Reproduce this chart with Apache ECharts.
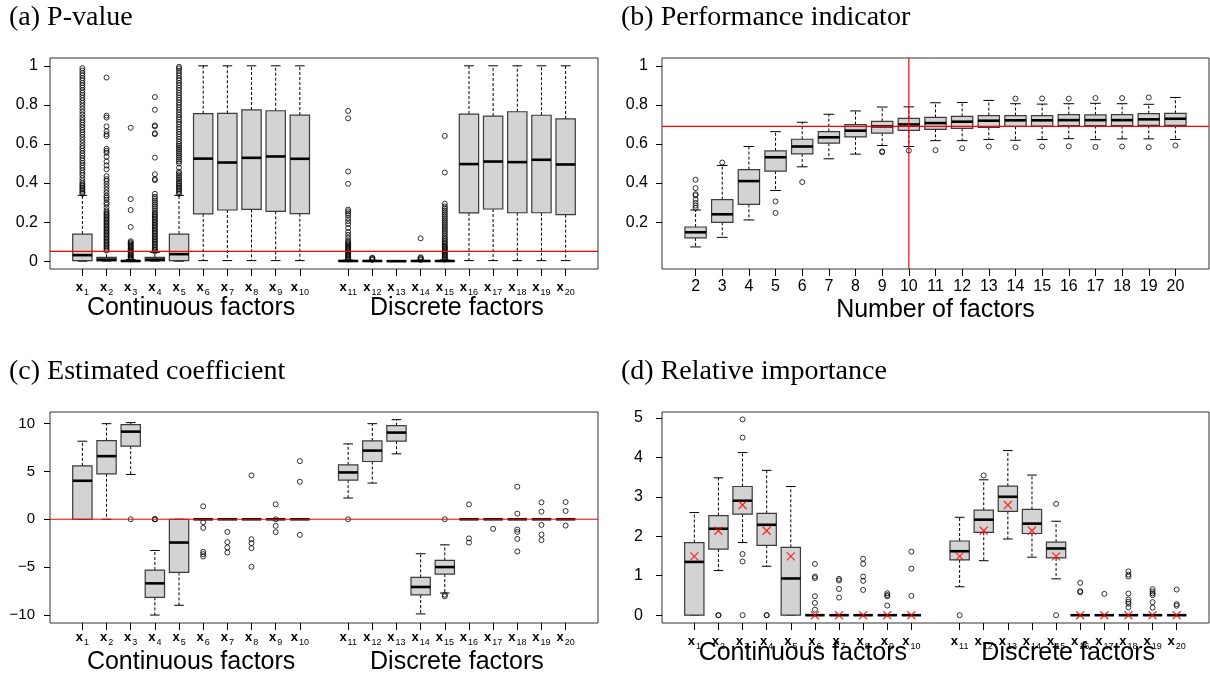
<!DOCTYPE html>
<html><head><meta charset="utf-8">
<script src="https://cdn.jsdelivr.net/npm/echarts@6/dist/echarts.min.js"></script>
<style>html,body{margin:0;padding:0;background:#fff}#c{width:1210px;height:677px}</style>
</head><body><div id="c"></div>
<script>
// ---------- categories ----------
const factorSubs = ['1','2','3','4','5','6','7','8','9','10','11','12','13','14','15','16','17','18','19','20'];
const factorPositions = [1,2,3,4,5,6,7,8,9,10,12,13,14,15,16,17,18,19,20,21];
const numberOfFactors = [2,3,4,5,6,7,8,9,10,11,12,13,14,15,16,17,18,19,20];
const pTicks = [0,0.2,0.4,0.6,0.8,1];
const perfTicks = [0.2,0.4,0.6,0.8,1];
const coefTicks = [-10,-5,0,5,10];
const impTicks = [0,1,2,3,4,5];

// ---------- (a) P-value: [low, q1, median, q3, high] ----------
const pvalBoxes = [
 [0,0.003,0.031,0.139,0.337],[0,0.001,0.008,0.02,0.049],[0,0,0.001,0.003,0.008],[0,0.001,0.008,0.02,0.045],[0,0.003,0.036,0.139,0.337],
 [0.003,0.242,0.525,0.755,1.0],[0.003,0.262,0.505,0.757,1.0],[0.003,0.265,0.529,0.774,1.0],[0.003,0.255,0.536,0.770,1.0],[0.003,0.243,0.524,0.748,1.0],
 [0,0,0.001,0.003,0.006],[0,0,0.001,0.002,0.004],[0,0,0,0.001,0.002],[0,0,0.001,0.002,0.004],[0,0,0.001,0.003,0.006],
 [0.003,0.247,0.497,0.753,1.0],[0.003,0.267,0.510,0.743,1.0],[0.003,0.248,0.507,0.765,1.0],[0.003,0.248,0.519,0.747,1.0],[0.003,0.238,0.495,0.728,1.0]
];
const pvalOutliers = [
 [0.345,0.352,0.36,0.368,0.375,0.383,0.39,0.398,0.41,0.425,0.44,0.452,0.465,0.478,0.49,0.503,0.515,0.527,0.54,0.552,0.565,0.578,0.59,0.605,0.62,0.635,0.648,0.66,0.672,0.685,0.698,0.71,0.722,0.735,0.75,0.765,0.78,0.795,0.81,0.823,0.836,0.85,0.862,0.875,0.888,0.9,0.912,0.925,0.937,0.95,0.962,0.975,0.988],
 [0.055,0.062,0.07,0.078,0.085,0.093,0.1,0.108,0.115,0.123,0.13,0.138,0.145,0.153,0.16,0.168,0.175,0.183,0.19,0.198,0.205,0.213,0.22,0.228,0.235,0.243,0.25,0.26,0.275,0.29,0.3,0.315,0.325,0.335,0.35,0.365,0.38,0.395,0.41,0.42,0.435,0.47,0.49,0.51,0.535,0.555,0.565,0.575,0.64,0.65,0.665,0.69,0.735,0.745,0.94],
 [0.009,0.014,0.019,0.024,0.03,0.036,0.042,0.048,0.054,0.06,0.066,0.072,0.078,0.084,0.09,0.096,0.102,0.175,0.262,0.318,0.683],
 [0.05,0.058,0.066,0.074,0.082,0.09,0.098,0.106,0.114,0.122,0.13,0.138,0.146,0.154,0.162,0.17,0.178,0.186,0.194,0.202,0.21,0.218,0.226,0.234,0.242,0.25,0.26,0.27,0.28,0.29,0.3,0.31,0.32,0.33,0.345,0.415,0.42,0.445,0.53,0.65,0.655,0.69,0.695,0.775,0.84],
 [0.345,0.353,0.361,0.369,0.377,0.385,0.393,0.401,0.41,0.42,0.43,0.44,0.45,0.458,0.478,0.5,0.51,0.52,0.53,0.54,0.55,0.56,0.57,0.58,0.59,0.6,0.612,0.625,0.637,0.65,0.662,0.675,0.687,0.7,0.712,0.725,0.737,0.75,0.762,0.775,0.787,0.8,0.812,0.825,0.837,0.85,0.862,0.875,0.887,0.9,0.912,0.925,0.937,0.95,0.962,0.975,0.987,0.995],
 [],[],[],[],[],
 [0.008,0.014,0.02,0.026,0.032,0.038,0.044,0.05,0.056,0.062,0.068,0.074,0.08,0.086,0.092,0.098,0.106,0.12,0.135,0.15,0.17,0.19,0.205,0.22,0.235,0.245,0.255,0.264,0.396,0.459,0.731,0.769],
 [0.006,0.01,0.014,0.018],
 [],
 [0.006,0.011,0.016,0.02,0.117],
 [0.008,0.014,0.02,0.026,0.032,0.038,0.044,0.05,0.056,0.062,0.068,0.074,0.08,0.088,0.096,0.104,0.112,0.12,0.13,0.14,0.15,0.16,0.17,0.18,0.19,0.2,0.21,0.22,0.23,0.24,0.25,0.26,0.27,0.28,0.294,0.454,0.641],
 [],[],[],[],[]
];
const pvalThreshold = 0.05;

// ---------- (b) Performance indicator ----------
const perfBoxes = [
 [0.073,0.119,0.148,0.175,0.262],[0.122,0.199,0.240,0.315,0.49],[0.211,0.291,0.41,0.469,0.587],[0.362,0.461,0.532,0.565,0.663],
 [0.483,0.549,0.587,0.624,0.711],[0.524,0.604,0.634,0.663,0.752],[0.548,0.636,0.668,0.699,0.769],[0.592,0.655,0.69,0.716,0.789],
 [0.587,0.67,0.70,0.731,0.79],[0.617,0.675,0.707,0.736,0.811],[0.617,0.68,0.714,0.741,0.812],[0.623,0.685,0.719,0.745,0.823],
 [0.619,0.69,0.721,0.745,0.806],[0.623,0.692,0.721,0.745,0.804],[0.627,0.694,0.722,0.75,0.806],[0.622,0.694,0.722,0.749,0.808],
 [0.626,0.694,0.722,0.75,0.806],[0.626,0.695,0.726,0.755,0.803],[0.623,0.695,0.729,0.757,0.838]
];
const perfOutliers = [
 [0.272,0.284,0.298,0.315,0.337,0.343,0.374,0.417],[0.505],[],[0.306,0.247],[0.405],[],[],[0.558,0.562],
 [0.566],[0.568],[0.578],[0.587],[0.832,0.583],[0.833,0.587],[0.832,0.588],[0.835,0.585],[0.835,0.587],[0.838,0.583],[0.592]
];
const perfThresholdY = 0.69;
const perfThresholdX = 10;

// ---------- (c) Estimated coefficient ----------
const coefBoxes = [
 [0,0,4.02,5.58,8.15],[0,4.75,6.59,8.21,9.98],[4.68,7.63,9.15,9.88,10.09],[-10.0,-8.15,-6.69,-5.3,-3.26],[-8.98,-5.55,-2.43,0,0],
 [0,0,0,0,0],[0,0,0,0,0],[0,0,0,0,0],[0,0,0,0,0],[0,0,0,0,0],
 [2.22,4.09,4.89,5.68,7.87],[3.78,6.03,7.17,8.18,9.98],[6.83,8.15,9.05,9.77,10.4],[-9.88,-7.9,-7.07,-6.07,-3.6],[-7.7,-5.72,-4.99,-4.3,-2.67],
 [0,0,0,0,0],[0,0,0,0,0],[0,0,0,0,0],[0,0,0,0,0],[0,0,0,0,0]
];
const coefOutliers = [
 [],[],[0],[0,0,0],[],
 [1.35,-0.31,-0.9,-3.4,-3.64,-3.88],[-1.32,-2.39,-2.95,-3.47],[4.58,-2.08,-2.5,-3.02,-4.96],[1.56,0,-0.69,-1.35],[6.07,3.92,-1.63],
 [0],[],[],[],[0,-7.87,-8.04],
 [1.56,-2.0,-2.43],[-1.0],[3.4,0.59,-1.07,-1.32,-2.05,-3.36],[1.77,0.8,-0.59,-1.6,-2.18],[1.8,0.87,-0.66]
];
const coefReference = 0;

// ---------- (d) Relative importance ----------
const impBoxes = [
 [0,0,1.35,1.84,2.6],[1.13,1.675,2.19,2.525,3.48],[1.84,2.56,2.9,3.26,4.12],[1.24,1.77,2.29,2.58,3.67],[0,0,0.93,1.72,3.26],
 [0,0,0,0,0],[0,0,0,0,0],[0,0,0,0,0],[0,0,0,0,0],[0,0,0,0,0],
 [0.72,1.4,1.62,1.88,2.48],[1.38,2.1,2.42,2.66,3.43],[1.93,2.63,3.0,3.27,4.17],[1.47,2.07,2.32,2.68,3.55],[0.92,1.45,1.69,1.85,2.38],
 [0,0,0,0,0],[0,0,0,0,0],[0,0,0,0,0],[0,0,0,0,0],[0,0,0,0,0]
];
const impOutliers = [
 [],[0,0],[4.96,4.5,1.55,1.36,0],[0,0],[],
 [1.3,0.98,0.94,0.48,0.31,0.14],[0.92,0.88,0.665,0.446],[1.43,1.3,0.98,0.87,0.64],[0.556,0.51,0.48,0.244],[1.61,1.18,0.49],
 [0],[3.54],[],[],[2.82,0],
 [0.82,0.61,0.58],[0.54],[1.11,1.03,0.98,0.55,0.4,0.34,0.29,0.2],[0.66,0.6,0.55,0.51,0.33,0.19],[0.65,0.28,0.24]
];
const impMeans = [1.49,2.14,2.79,2.14,1.49,0,0,0,0,0,1.49,2.14,2.79,2.14,1.49,0,0,0,0,0];

// ---------- helpers ----------
const SANS = 'Liberation Sans';
const SERIF = 'Liberation Serif';
const RED = '#ff0000';

function boxData(pos, boxes){ return boxes.map((b,i)=>[pos[i]].concat(b)); }
function outData(pos, outs){ const r=[]; outs.forEach((o,i)=>o.forEach(v=>r.push([pos[i],v]))); return r; }

function renderBox(params, api){
  const x = api.value(0);
  const lo = api.coord([x, api.value(1)]);
  const q1 = api.coord([x, api.value(2)]);
  const md = api.coord([x, api.value(3)]);
  const q3 = api.coord([x, api.value(4)]);
  const hi = api.coord([x, api.value(5)]);
  const bw = api.size([0.8, 0])[0];
  const cx = md[0];
  const dash = {stroke:'#000', lineWidth:1, lineDash:[3,2]};
  const solid = {stroke:'#000', lineWidth:1};
  return {type:'group', children:[
    {type:'line', shape:{x1:cx,y1:q3[1],x2:cx,y2:hi[1]}, style:dash},
    {type:'line', shape:{x1:cx,y1:q1[1],x2:cx,y2:lo[1]}, style:dash},
    {type:'line', shape:{x1:cx-bw/4,y1:hi[1],x2:cx+bw/4,y2:hi[1]}, style:solid},
    {type:'line', shape:{x1:cx-bw/4,y1:lo[1],x2:cx+bw/4,y2:lo[1]}, style:solid},
    {type:'rect', shape:{x:cx-bw/2,y:q3[1],width:bw,height:q1[1]-q3[1]}, style:{fill:'#d3d3d3', stroke:'#3a3a3a', lineWidth:1.2}},
    {type:'line', shape:{x1:cx-bw/2,y1:md[1],x2:cx+bw/2,y2:md[1]}, style:{stroke:'#000', lineWidth:2.6}}
  ]};
}

const subRich = {
  b:{fontFamily:SANS, fontSize:13, fontWeight:'bold', color:'#000', lineHeight:16, verticalAlign:'top'},
  s:{fontFamily:SANS, fontSize:9, color:'#000', lineHeight:10, padding:[7,0,0,1]}
};
function factorX(gridIndex, margin){
  return {type:'value', gridIndex, min:-0.34, max:22.34,
    axisLine:{show:false, onZero:false}, splitLine:{show:false},
    axisTick:{show:true, customValues:factorPositions, length:7, lineStyle:{color:'#000'}},
    axisLabel:{customValues:factorPositions, margin, rich:subRich,
      formatter:v=>{const i=factorPositions.indexOf(Math.round(v)); return '{b|x}{s|'+factorSubs[i]+'}';}}};
}
function yAx(gridIndex, min, max, ticks, margin, fs){
  return {type:'value', gridIndex, min, max, axisLine:{show:false, onZero:false}, splitLine:{show:false},
    axisTick:{show:true, customValues:ticks, length:6, lineStyle:{color:'#000'}},
    axisLabel:{customValues:ticks, margin, fontFamily:SANS, fontSize:fs, color:'#000',
      formatter:v=>{const r=Math.round(v*100)/100; return r<0?'\u2212'+Math.abs(r):String(r);}}};
}
const gridBase = {show:true, borderColor:'#333', borderWidth:1, containLabel:false};
const outStyle = {symbol:'circle', symbolSize:5, itemStyle:{color:'rgba(0,0,0,0)', borderColor:'#000', borderWidth:1}};

// reference lines drawn as line series spanning the axis extent
function hLine(ax, xMin, xMax, y){
  return {type:'line', xAxisIndex:ax, yAxisIndex:ax, data:[[xMin,y],[xMax,y]], symbol:'none', silent:true, z:6,
    lineStyle:{color:RED, width:1.2, type:'solid'}, itemStyle:{color:RED}};
}
function vLine(ax, x, yMin, yMax){
  return {type:'line', xAxisIndex:ax, yAxisIndex:ax, data:[[x,yMin],[x,yMax]], symbol:'none', silent:true, z:6,
    lineStyle:{color:RED, width:1.2, type:'solid'}, itemStyle:{color:RED}};
}

const option = {
  animation:false,
  grid:[
    Object.assign({left:50, top:58, width:548, height:211}, gridBase),
    Object.assign({left:662, top:58, width:547, height:211}, gridBase),
    Object.assign({left:50, top:412, width:548, height:211}, gridBase),
    Object.assign({left:662, top:412, width:547, height:211}, gridBase)
  ],
  xAxis:[
    factorX(0, 12),
    {type:'value', gridIndex:1, min:0.74, max:21.26, axisLine:{show:false, onZero:false}, splitLine:{show:false},
      axisTick:{show:true, customValues:numberOfFactors, length:7, lineStyle:{color:'#000'}},
      axisLabel:{customValues:numberOfFactors, margin:10, fontFamily:SANS, fontSize:16, color:'#000'}},
    factorX(2, 8),
    factorX(3, 12)
  ],
  yAxis:[
    yAx(0, -0.04, 1.04, pTicks, 12, 16),
    yAx(1, -0.04, 1.04, perfTicks, 14, 16),
    yAx(2, -10.83, 11.2, coefTicks, 15, 15),
    yAx(3, -0.198, 5.148, impTicks, 19, 16)
  ],
  series:[
    {type:'custom', xAxisIndex:0, yAxisIndex:0, renderItem:renderBox, encode:{x:0,y:[1,2,3,4,5]}, data:boxData(factorPositions, pvalBoxes), z:2},
    Object.assign({type:'scatter', xAxisIndex:0, yAxisIndex:0, data:outData(factorPositions, pvalOutliers), z:3}, outStyle),
    hLine(0, -0.34, 22.34, pvalThreshold),

    {type:'custom', xAxisIndex:1, yAxisIndex:1, renderItem:renderBox, encode:{x:0,y:[1,2,3,4,5]}, data:boxData(numberOfFactors, perfBoxes), z:2},
    Object.assign({type:'scatter', xAxisIndex:1, yAxisIndex:1, data:outData(numberOfFactors, perfOutliers), z:3}, outStyle),
    hLine(1, 0.74, 21.26, perfThresholdY),
    vLine(1, perfThresholdX, -0.04, 1.04),

    {type:'custom', xAxisIndex:2, yAxisIndex:2, renderItem:renderBox, encode:{x:0,y:[1,2,3,4,5]}, data:boxData(factorPositions, coefBoxes), z:2},
    Object.assign({type:'scatter', xAxisIndex:2, yAxisIndex:2, data:outData(factorPositions, coefOutliers), z:3}, outStyle),
    hLine(2, -0.34, 22.34, coefReference),

    {type:'custom', xAxisIndex:3, yAxisIndex:3, renderItem:renderBox, encode:{x:0,y:[1,2,3,4,5]}, data:boxData(factorPositions, impBoxes), z:2},
    Object.assign({type:'scatter', xAxisIndex:3, yAxisIndex:3, data:outData(factorPositions, impOutliers), z:3}, outStyle),
    {type:'scatter', xAxisIndex:3, yAxisIndex:3, data:impMeans.map((m,i)=>[factorPositions[i], m]), z:4,
      symbol:'path://M0,0L10,10M10,0L0,10', symbolSize:8,
      itemStyle:{color:'rgba(0,0,0,0)', borderColor:RED, borderWidth:1.3}}
  ]
};

const chart = echarts.init(document.getElementById('c'), null, {renderer:'canvas'});
chart.setOption(option);

function px(axis, v){ return chart.convertToPixel({xAxisIndex:axis}, v); }
const titleFont = '28px "' + SERIF + '"';
const groupFont = '25px "' + SANS + '"';
function txt(x, y, text, font, align){
  return {type:'text', x, y, silent:true, style:{text, font, fill:'#000', textAlign:align||'center', textVerticalAlign:'middle'}};
}
chart.setOption({graphic:[
  txt(9, 18, '(a) P-value', titleFont, 'left'),
  txt(621, 18, '(b) Performance indicator', titleFont, 'left'),
  txt(9, 372, '(c) Estimated coefficient', titleFont, 'left'),
  txt(621, 372, '(d) Relative importance', titleFont, 'left'),
  txt((px(0,1)+px(0,10))/2, 308, 'Continuous factors', groupFont),
  txt((px(0,12)+px(0,21))/2, 308, 'Discrete factors', groupFont),
  txt((px(1,2)+px(1,20))/2, 310, 'Number of factors', groupFont),
  txt((px(2,1)+px(2,10))/2, 662, 'Continuous factors', groupFont),
  txt((px(2,12)+px(2,21))/2, 662, 'Discrete factors', groupFont),
  txt((px(3,1)+px(3,10))/2, 653, 'Continuous factors', groupFont),
  txt((px(3,12)+px(3,21))/2, 653, 'Discrete factors', groupFont)
]});
</script>
</body></html>
